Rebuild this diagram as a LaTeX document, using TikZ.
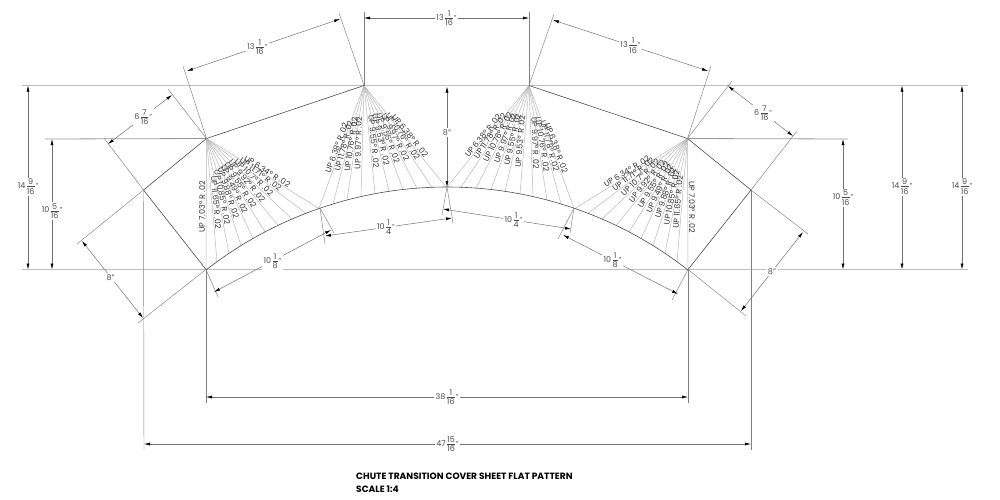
\documentclass[tikz,border=0pt]{standalone}
\usepackage{fontspec}
\setmainfont{Poppins}
\usetikzlibrary{arrows.meta,calc}

\tikzset{
    outline/.style={draw=black!70, line width=0.6pt},
    refline/.style={draw=black!25, line width=1.3pt},
    midline/.style={draw=black!40, line width=0.8pt},
    extline/.style={draw=black!50, line width=0.45pt},
    fanline/.style={draw=black!28, line width=0.5pt},
    dimline/.style={draw=black!55, line width=0.5pt, {Latex[length=6pt,width=3pt,black]}-{Latex[length=6pt,width=3pt,black]}},
    dimtext/.style={fill=white, inner sep=1.5pt, font=\fontsize{8}{9}\selectfont, text=black!70},
    uplabel/.style={anchor=south, inner sep=1pt, font=\fontsize{8}{9}\selectfont, text=black!80},
    titletext/.style={anchor=west, inner sep=0pt, font=\fontsize{9.1}{10}\selectfont\bfseries}
}

% whole number and stacked fraction
\newcommand{\dimfrac}[3]{#1\kern1.5pt$\vcenter{\offinterlineskip\halign{\hfil##\hfil\cr\hbox{#2}\cr\noalign{\kern1.5pt\hrule height .4pt\kern1.5pt}\hbox{#3}\cr}}$\kern1pt{\fontsize{7}{7}\selectfont"}}

% fan of bend lines from one apex to the arc
\newcommand{\upfan}[2]{%
    \foreach \xe/\lab/\flip in {#2}{
        \pgfmathsetmacro{\ye}{578.4-100*sqrt(3.914^2-((\xe-447)/100)^2)}
        \coordinate (end#1\xe) at (\xe,\ye);
        \draw[fanline] (#1) -- (end#1\xe);
        \path let \p1=($(end#1\xe)-(#1)$), \n1={atan2(\y1,\x1)} in
            node[uplabel, rotate={\n1+\flip}] (up#1\xe) at ($(#1)!.52!(end#1\xe)$) {UP \lab° R .02};
    }%
}

\begin{document}
\begin{tikzpicture}[x=1pt, y=-1pt]
    \useasboundingbox (0,0) rectangle (1000,499);

    % === Corners of the flat pattern ===
    \coordinate (A) at (206.5,138.5);
    \coordinate (B) at (364,85.5);
    \coordinate (C) at (529,85.5);
    \coordinate (D) at (687.5,138.5);
    \coordinate (E) at (143.5,190);
    \coordinate (F) at (751,190);
    \coordinate (G) at (206,269.5);
    \coordinate (H) at (688,269.5);
    \coordinate (L) at (320,208);
    \coordinate (M) at (447,187);
    \coordinate (N) at (574,208);

    % Reference lines
    \coordinate (topL) at (22,85.5);
    \coordinate (topR) at (968,85.5);
    \coordinate (botL) at (22,269.5);
    \coordinate (botR) at (968,269.5);
    \coordinate (midL) at (45,139);
    \coordinate (midR) at (848,139);
    \draw[refline] (topL) -- (topR);
    \draw[refline] (botL) -- (botR);
    \draw[midline] (midL) -- (A);
    \draw[midline] (D) -- (midR);

    % === Fans ===
    \upfan{A}{206/7.03/180, 217/11.65/0, 229/10.85/0, 241/9.88/0, 253/9.49/0, 265/9.55/0, 278/9.92/0, 292/10.7/0, 306/11.71/0, 319/6.34/0}
    \upfan{B}{319/6.38/180, 333/11.78/180, 347/10.76/180, 361/9.97/180, 375/9.55/0, 389/9.53/0, 403/9.55/0, 417/9.97/0, 432/10.76/0, 446/6.38/0}
    \upfan{C}{447/6.38/180, 461/11.78/180, 476/10.76/180, 491/9.97/180, 505/9.55/180, 520/9.53/180, 533/9.97/0, 547/10.76/0, 561/11.78/0, 574/6.38/0}
    \upfan{D}{575/6.34/180, 588/11.71/180, 602/10.7/180, 616/9.92/180, 629/9.55/180, 641/9.49/180, 653/9.88/180, 665/10.85/180, 677/11.65/180, 688/7.03/0}

    % === Outline ===
    \draw[outline] (A) -- (B);
    \draw[outline] (C) -- (D);
    \draw[outline] (A) -- (E) -- (G);
    \draw[outline] (D) -- (F) -- (H);
    \draw[outline] plot[domain=206:688, samples=50, smooth] (\x, {578.4-100*sqrt(3.914^2-((\x-447)/100)^2)});

    % === Extension lines ===
    \coordinate (e1) at (183,66);
    \coordinate (e2) at (339,13);
    \coordinate (e3) at (364,12);
    \coordinate (e4) at (529,12);
    \coordinate (e5) at (554,14);
    \coordinate (e6) at (711,66);
    \coordinate (e7) at (168,89);
    \coordinate (e8) at (104,138);
    \coordinate (e9) at (77,244);
    \coordinate (e10) at (138,323);
    \coordinate (e11) at (732,81);
    \coordinate (e12) at (797,131);
    \coordinate (e13) at (808,234);
    \coordinate (e14) at (746,316);
    \coordinate (e15) at (144,450);
    \coordinate (e16) at (751,450);
    \coordinate (e17) at (206,403);
    \coordinate (e18) at (688,403);
    \coordinate (e19) at (218,297);
    \coordinate (e20) at (672,300);
    \coordinate (e21) at (334,233);
    \coordinate (e22) at (325,244);
    \coordinate (e23) at (442,215);
    \coordinate (e24) at (453,223);
    \coordinate (e25) at (570,233);
    \coordinate (e26) at (558,239);
    \draw[extline] (A) -- (e1);
    \draw[extline] (B) -- (e2);
    \draw[extline] (B) -- (e3);
    \draw[extline] (C) -- (e4);
    \draw[extline] (C) -- (e5);
    \draw[extline] (D) -- (e6);
    \draw[extline] (A) -- (e7);
    \draw[extline] (E) -- (e8);
    \draw[extline] (E) -- (e9);
    \draw[extline] (G) -- (e10);
    \draw[extline] (D) -- (e11);
    \draw[extline] (F) -- (e12);
    \draw[extline] (F) -- (e13);
    \draw[extline] (H) -- (e14);
    \draw[extline] (E) -- (e15);
    \draw[extline] (F) -- (e16);
    \draw[extline] (G) -- (e17);
    \draw[extline] (H) -- (e18);
    \draw[extline] (G) -- (e19);
    \draw[extline] (H) -- (e20);
    \draw[extline] (L) -- (e21);
    \draw[extline] (L) -- (e22);
    \draw[extline] (M) -- (e23);
    \draw[extline] (M) -- (e24);
    \draw[extline] (N) -- (e25);
    \draw[extline] (N) -- (e26);

    % === Dimensions ===
    % top edges
    \coordinate (d1a) at (187,71);
    \coordinate (d1b) at (340,19);
    \draw[dimline] (d1a) -- node[dimtext, pos=.46] (t1) {\dimfrac{13}{1}{16}} (d1b);
    \coordinate (d2a) at (364,18);
    \coordinate (d2b) at (529,18);
    \draw[dimline] (d2a) -- node[dimtext, pos=.5] (t2) {\dimfrac{13}{1}{16}} (d2b);
    \coordinate (d3a) at (553,20);
    \coordinate (d3b) at (708,71);
    \draw[dimline] (d3a) -- node[dimtext, pos=.5] (t3) {\dimfrac{13}{1}{16}} (d3b);
    % side edges
    \coordinate (d4a) at (172,95);
    \coordinate (d4b) at (108,144);
    \draw[dimline] (d4a) -- node[dimtext, pos=.45] (t4) {\dimfrac{6}{7}{16}} (d4b);
    \coordinate (d5a) at (728,86);
    \coordinate (d5b) at (793,136);
    \draw[dimline] (d5a) -- node[dimtext, pos=.54] (t5) {\dimfrac{6}{7}{16}} (d5b);
    \coordinate (d6a) at (82,241);
    \coordinate (d6b) at (143,318);
    \draw[dimline] (d6a) -- node[dimtext, pos=.47] (t6) {8"} (d6b);
    \coordinate (d7a) at (803,232);
    \coordinate (d7b) at (741,311);
    \draw[dimline] (d7a) -- node[dimtext, pos=.5] (t7) {8"} (d7b);
    % verticals
    \coordinate (d8a) at (28,85.5);
    \coordinate (d8b) at (28,269.5);
    \draw[dimline] (d8a) -- node[dimtext, pos=.55] (t8) {\dimfrac{14}{9}{16}} (d8b);
    \coordinate (d9a) at (52,139);
    \coordinate (d9b) at (52,269.5);
    \draw[dimline] (d9a) -- node[dimtext, pos=.55] (t9) {\dimfrac{10}{5}{16}} (d9b);
    \coordinate (d10a) at (843,139);
    \coordinate (d10b) at (843,269.5);
    \draw[dimline] (d10a) -- node[dimtext, pos=.45] (t10) {\dimfrac{10}{5}{16}} (d10b);
    \coordinate (d11a) at (902,85.5);
    \coordinate (d11b) at (902,269.5);
    \draw[dimline] (d11a) -- node[dimtext, pos=.55] (t11) {\dimfrac{14}{9}{16}} (d11b);
    \coordinate (d12a) at (962,85.5);
    \coordinate (d12b) at (962,269.5);
    \draw[dimline] (d12a) -- node[dimtext, pos=.55] (t12) {\dimfrac{14}{9}{16}} (d12b);
    \coordinate (d13a) at (447,86.5);
    \coordinate (d13b) at (447,187);
    \draw[dimline] (d13a) -- node[dimtext, pos=.46] (t13) {8"} (d13b);
    % arc segments
    \coordinate (d14a) at (214,292);
    \coordinate (d14b) at (331,230);
    \draw[dimline] (d14a) -- node[dimtext, pos=.5] (t14) {\dimfrac{10}{1}{8}} (d14b);
    \coordinate (d15a) at (325,236);
    \coordinate (d15b) at (452,218);
    \draw[dimline] (d15a) -- node[dimtext, pos=.48] (t15) {\dimfrac{10}{1}{4}} (d15b);
    \coordinate (d16a) at (443,209);
    \coordinate (d16b) at (571,229);
    \draw[dimline] (d16a) -- node[dimtext, pos=.55] (t16) {\dimfrac{10}{1}{4}} (d16b);
    \coordinate (d17a) at (563,235);
    \coordinate (d17b) at (678,294);
    \draw[dimline] (d17a) -- node[dimtext, pos=.43] (t17) {\dimfrac{10}{1}{8}} (d17b);
    % overall widths
    \coordinate (d18a) at (206,397);
    \coordinate (d18b) at (688,397);
    \draw[dimline] (d18a) -- node[dimtext, pos=.5] (t18) {\dimfrac{38}{1}{16}} (d18b);
    \coordinate (d19a) at (144,444);
    \coordinate (d19b) at (751,444);
    \draw[dimline] (d19a) -- node[dimtext, pos=.5] (t19) {\dimfrac{47}{15}{16}} (d19b);

    % === Title ===
    \node[titletext] (title) at (356,476) {CHUTE TRANSITION COVER SHEET FLAT PATTERN};
    \node[titletext] (scale) at (356,489) {SCALE 1:4};

\end{tikzpicture}
\end{document}
